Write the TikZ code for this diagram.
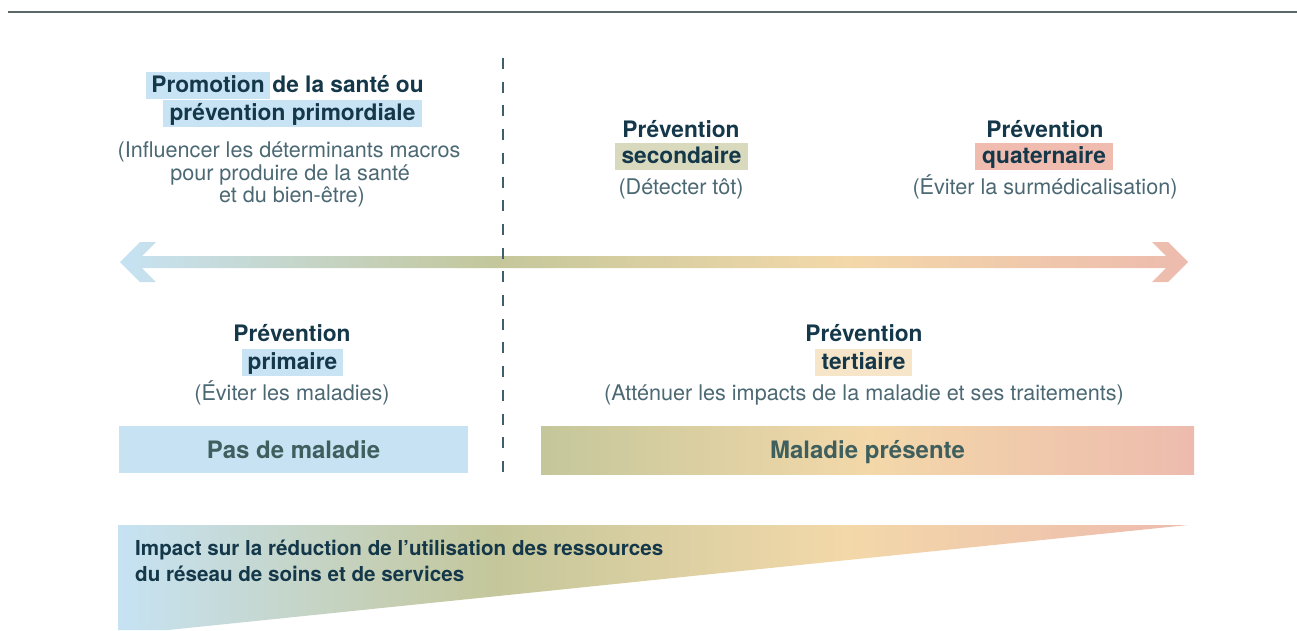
\documentclass[tikz,border=0pt]{standalone}
\usepackage{fontspec}
\setmainfont{TeX Gyre Heros}
\definecolor{cblue}{HTML}{C6E2F3}
\definecolor{colive}{HTML}{C4C79B}
\definecolor{cbeige}{HTML}{F3D8A9}
\definecolor{cpink}{HTML}{EDBBAE}
\definecolor{hlblue}{HTML}{C7E3F4}
\definecolor{hlsec}{HTML}{D8D9BD}
\definecolor{hlquat}{HTML}{EFBCAF}
\definecolor{hltert}{HTML}{F6E5C9}
\definecolor{ctitle}{HTML}{14384A}
\definecolor{csub}{HTML}{4B6873}
\definecolor{cboxtext}{HTML}{3F5F5E}
\definecolor{cdash}{HTML}{3F5E6C}
\definecolor{cline}{HTML}{5B6868}
\pgfdeclarehorizontalshading{spectrum}{100bp}{color(0bp)=(cblue); color(25bp)=(cblue); color(42.5bp)=(colive); color(59bp)=(cbeige); color(75bp)=(cpink); color(100bp)=(cpink)}
\pgfdeclarehorizontalshading{disease}{100bp}{color(0bp)=(colive); color(25bp)=(colive); color(50bp)=(cbeige); color(75bp)=(cpink); color(100bp)=(cpink)}
\begin{document}
\begin{tikzpicture}[x=1pt,y=-1pt,
  title/.style={font=\fontsize{22.7}{28}\selectfont\bfseries, text=ctitle, inner sep=0pt, text height=20.5pt, text depth=6.5pt},
  hl/.style={fill=#1},
  sub/.style={font=\fontsize{21.6}{24}\selectfont, text=csub, inner sep=0pt, text height=15pt, text depth=5pt},
  stateb/.style={font=\fontsize{24}{28}\selectfont\bfseries, text=cboxtext, inner sep=0pt, text height=17.5pt, text depth=0pt},
  impact/.style={font=\fontsize{20.6}{26}\selectfont\bfseries, text=ctitle, inner sep=0pt, text height=15pt, text depth=5pt, anchor=west}
]
\useasboundingbox (0,0) rectangle (1297,630);

% top rule
\coordinate (tl) at (8,12);
\coordinate (tr) at (1297,12);
\draw[cline, line width=1.5pt] (tl) -- (tr);

% double arrow
\shade[shading=spectrum] (120,262) -- (140,242) -- (156,242) -- (142,256) -- (1166,256) -- (1152,242) -- (1168,242) -- (1188,262) -- (1168,282) -- (1152,282) -- (1166,268) -- (142,268) -- (156,282) -- (140,282) -- cycle;

% dashed divider
\coordinate (dtop) at (503,58);
\coordinate (dbot) at (503,477);
\draw[cdash, line width=2pt, dash pattern=on 11pt off 12.7pt] (dtop) -- (dbot);

% Promotion
\node[title, hl=hlblue, minimum width=124] (promo) at (208,85.5) {Promotion};
\node[title, anchor=west] (promorest) at ([xshift=2pt]promo.east) {de la santé ou};
\node[title, hl=hlblue, minimum width=259] (primord) at (292.5,113.5) {prévention primordiale};
\node[sub] (s1a) at (289,152.5) {(Influencer les déterminants macros};
\node[sub] (s1b) at (290,175) {pour produire de la santé};
\node[sub] (s1c) at (292,197.5) {et du bien-être)};

% secondaire
\node[title] (p2) at (681,130) {Prévention};
\node[title, hl=hlsec, minimum width=133] (p2b) at (681.5,156.5) {secondaire};
\node[sub] (p2c) at (681,189.5) {(Détecter tôt)};

% quaternaire
\node[title] (p4) at (1045,130) {Prévention};
\node[title, hl=hlquat, minimum width=138] (p4b) at (1044,156.5) {quaternaire};
\node[sub] (p4c) at (1045,189.5) {(Éviter la surmédicalisation)};

% primaire
\node[title] (p1) at (292,334) {Prévention};
\node[title, hl=hlblue, minimum width=101] (p1b) at (292.5,362) {primaire};
\node[sub] (p1c) at (292,395.5) {(Éviter les maladies)};

% tertiaire
\node[title] (p3) at (864,334) {Prévention};
\node[title, hl=hltert, minimum width=97] (p3b) at (863.5,362) {tertiaire};
\node[sub] (p3c) at (864,395.5) {(Atténuer les impacts de la maladie et ses traitements)};

% state boxes
\node[stateb, fill=cblue, minimum width=349, minimum height=47] (nodis) at (293.5,449.5) {Pas de maladie};
\node[stateb, shade, shading=disease, minimum width=653, minimum height=48] (dis) at (867.5,450) {Maladie présente};

% impact wedge
\shade[shading=spectrum] (118,525) -- (1188,525) -- (168,630) -- (118,630) -- cycle;
\node[impact] (imp1) at (135,550) {Impact sur la réduction de l’utilisation des ressources};
\node[impact] (imp2) at (135,576) {du réseau de soins et de services};
\end{tikzpicture}
\end{document}
